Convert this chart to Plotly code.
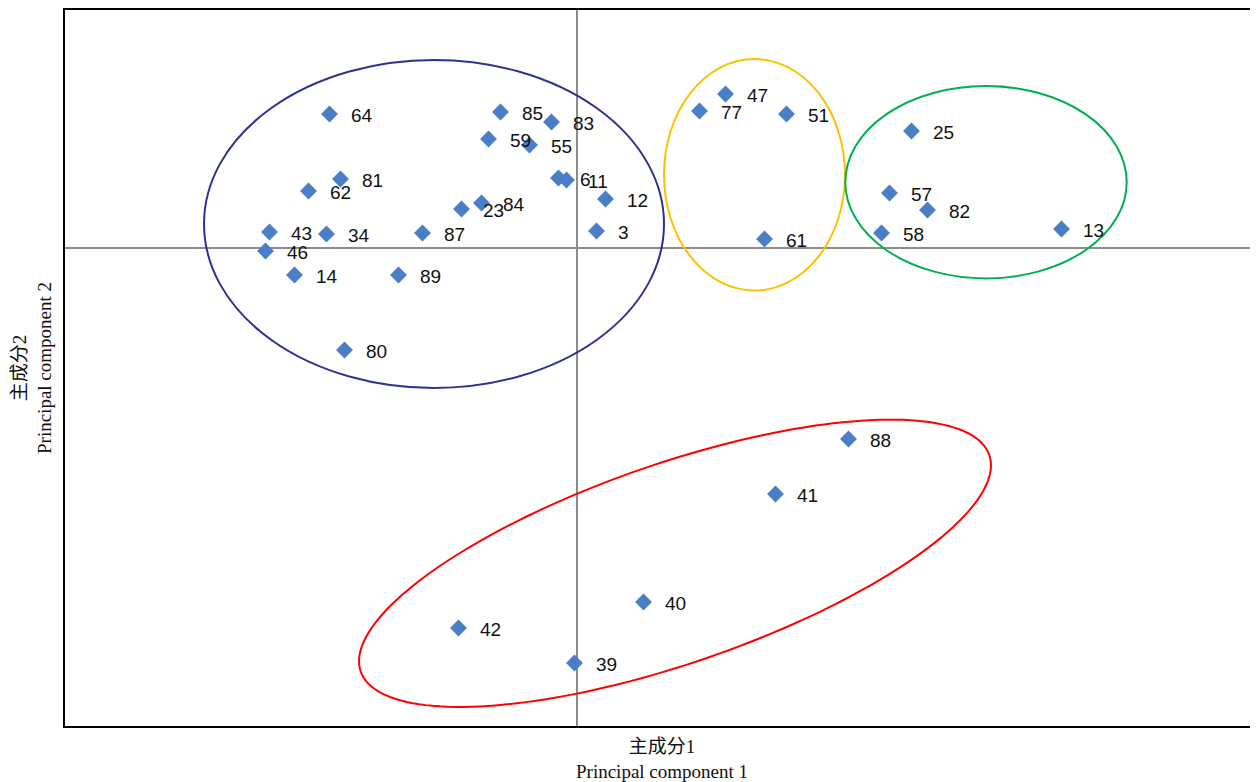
import numpy as np
import plotly.graph_objects as go

# ---- data (arbitrary PC units, origin at axis cross) ----
labels = ["64", "85", "83", "59", "55", "6", "11", "12", "3", "81", "62", "23", "84",
          "43", "34", "87", "46", "14", "89", "80",
          "47", "77", "51", "61",
          "25", "57", "82", "58", "13",
          "42", "39", "40", "41", "88"]
pc1 = [-2.47, -0.76, -0.25, -0.88, -0.47, -0.18, -0.10, 0.29, 0.20, -2.36, -2.68, -1.15, -0.95,
       -3.07, -2.50, -1.54, -3.11, -2.82, -1.78, -2.32,
       1.49, 1.23, 2.10, 1.88,
       3.35, 3.13, 3.51, 3.05, 4.85,
       -1.18, -0.02, 0.67, 1.99, 2.72]
pc2 = [1.34, 1.36, 1.26, 1.09, 1.03, 0.70, 0.68, 0.49, 0.17, 0.69, 0.57, 0.39, 0.45,
       0.16, 0.14, 0.15, -0.03, -0.27, -0.27, -1.02,
       1.54, 1.37, 1.34, 0.09,
       1.17, 0.55, 0.38, 0.15, 0.19,
       -3.80, -4.15, -3.54, -2.46, -1.91]

# cluster ellipses: centre x, centre y, semi-axis a, semi-axis b, angle (deg)
ell_names = ["blue", "yellow", "green", "red"]
ell_cx = [-1.425, 1.78, 4.095, 0.985]
ell_cy = [0.24, 0.732, 0.658, -3.153]
ell_a = [2.30, 0.905, 1.407, 3.324]
ell_b = [1.64, 1.158, 0.962, 0.999]
ell_ang = [0.0, 0.0, 0.0, 19.0]
ell_col = ["#2e3192", "#ffc000", "#00b050", "#ff0000"]

x_title = "主成分1<br>Principal component 1"
y_title = "主成分2<br>Principal component 2"

x_range = [-5.115, 6.815]
y_range = [-4.78, 2.38]

fig = go.Figure()
fig.add_trace(go.Scatter(
    x=pc1, y=pc2, mode="markers",
    marker=dict(symbol="diamond", size=13, color="#4a7ec7", line=dict(width=0)),
    hoverinfo="skip", showlegend=False))

for lab, x, y in zip(labels, pc1, pc2):
    fig.add_annotation(x=x, y=y, text=lab, showarrow=False, xanchor="left", yanchor="middle",
                       xshift=19, yshift=-1,
                       font=dict(family="Liberation Sans Narrow, Arial Narrow, Liberation Sans",
                                 size=19, color="#111111"))

for cx, cy, a, b, ang, col in zip(ell_cx, ell_cy, ell_a, ell_b, ell_ang, ell_col):
    if ang == 0:
        fig.add_shape(type="circle", xref="x", yref="y", x0=cx - a, x1=cx + a,
                      y0=cy - b, y1=cy + b, line=dict(color=col, width=2))
    else:
        t = np.linspace(0, 2 * np.pi, 181)
        th = np.deg2rad(ang)
        xs = cx + a * np.cos(t) * np.cos(th) - b * np.sin(t) * np.sin(th)
        ys = cy + a * np.cos(t) * np.sin(th) + b * np.sin(t) * np.cos(th)
        path = "M " + " L ".join(f"{u:.4f},{v:.4f}" for u, v in zip(xs, ys)) + " Z"
        fig.add_shape(type="path", xref="x", yref="y", path=path,
                      line=dict(color=col, width=2))

title_font = dict(family="Liberation Serif, Noto Sans CJK SC", size=19, color="#111111")
fig.add_annotation(xref="paper", yref="paper", x=0.5, y=0, xanchor="center", yanchor="top",
                   yshift=-8, text=x_title, showarrow=False, font=title_font)
fig.add_annotation(xref="paper", yref="paper", x=0, y=0.5, xanchor="right", yanchor="middle",
                   xshift=-8, text=y_title, textangle=-90, showarrow=False, font=title_font)

axis_common = dict(showgrid=False, showticklabels=False, ticks="", zeroline=True,
                   zerolinecolor="#8c8c8c", zerolinewidth=2, showline=True,
                   linecolor="black", linewidth=2)
fig.update_xaxes(range=x_range, mirror=True, **axis_common)
fig.update_yaxes(range=y_range, mirror=False, **axis_common)

fig.update_layout(width=1250, height=774, margin=dict(l=57, r=0, t=2, b=56),
                  plot_bgcolor="white", paper_bgcolor="white")

fig.write_html("out.html")
